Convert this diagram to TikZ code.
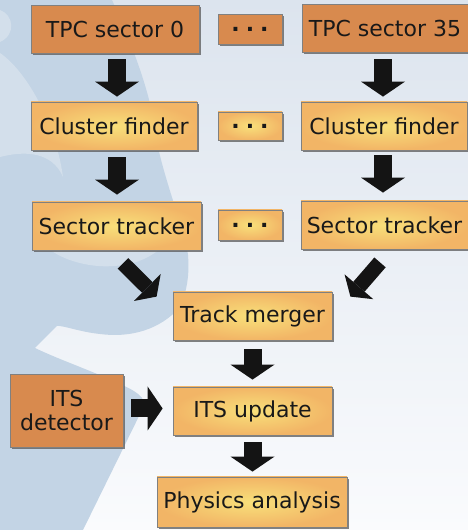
\documentclass[tikz,border=0pt]{standalone}
\usepackage{fontspec}
\setmainfont{DejaVu Sans}
\usetikzlibrary{arrows.meta,shadows}
\definecolor{bgtop}{HTML}{DCE4EE}
\definecolor{bgbottom}{HTML}{FAFBFD}
\definecolor{swirl}{HTML}{C3D4E5}
\definecolor{swirllight}{HTML}{D3DFEB}
\definecolor{detector}{HTML}{D88A4E}
\definecolor{stageouter}{HTML}{F2B566}
\definecolor{stageinner}{HTML}{F8E07A}
\newcommand{\boxfont}{\fontsize{22}{26}\selectfont}
\newcommand{\more}{\textbf{.\hspace{6pt}.\hspace{6pt}.}}
\tikzset{
  box/.style={inner sep=0pt, minimum height=48, font=\boxfont, text=black!90,
    draw=black!50, line width=0.8pt,
    drop shadow={shadow xshift=1.5pt, shadow yshift=-2.5pt, opacity=0.75, fill=black!65}},
  detectorbox/.style={box, fill=detector},
  stagebox/.style={box, inner color=stageinner, outer color=stageouter},
  flow/.style={line width=18pt, black!92,
    -{Triangle[width=44pt,length=15pt,line width=0pt]}},
  slantflow/.style={line width=15pt, black!92,
    -{Triangle[width=38pt,length=13pt,line width=0pt]}},
}

\begin{document}
\begin{tikzpicture}[x=1pt,y=1pt]
  \useasboundingbox (0,0) rectangle (468,530);
  % background
  \shade[top color=bgtop, bottom color=bgbottom] (0,0) rectangle (468,530);
  \fill[swirl] (0,530) -- (112,530)
    .. controls (130,490) and (150,440) .. (155,400)
    .. controls (160,360) and (185,300) .. (188,275)
    .. controls (190,250) and (185,235) .. (180,223)
    .. controls (160,200) and (130,192) .. (100,196)
    .. controls (80,198) and (62,205) .. (57,204) -- (35,182)
    .. controls (60,170) and (90,160) .. (115,148)
    .. controls (135,140) and (148,132) .. (143,122)
    -- (83,0) -- (0,0) -- cycle;
  \fill[swirllight] (0,520) .. controls (14,515) and (16,495) .. (0,488) -- cycle;
  \fill[swirllight] (0,477) .. controls (25,460) and (55,410) .. (63,353)
    .. controls (55,372) and (35,382) .. (0,373) -- cycle;
  \fill[swirllight] (40,290) .. controls (55,270) and (90,262) .. (113,264)
    .. controls (135,265) and (150,272) .. (165,285) -- cycle;
  % TPC sectors
  \node[detectorbox, minimum width=168] (tpc0) at (115,501) {TPC sector 0};
  \node[detectorbox, minimum width=64, minimum height=30] (dots1) at (250,501) {\more};
  \node[detectorbox, minimum width=166] (tpc35) at (385,502) {TPC sector 35};
  % cluster finders
  \node[stagebox, minimum width=166] (cf0) at (114,404) {Cluster finder};
  \node[stagebox, minimum width=64, minimum height=28] (dots2) at (250,404) {\more};
  \node[stagebox, minimum width=166] (cf35) at (384,404) {Cluster finder};
  % sector trackers
  \node[stagebox, minimum width=169] (st0) at (116.5,304) {Sector tracker};
  \node[stagebox, minimum width=64, minimum height=30] (dots3) at (250,305) {\more};
  \node[stagebox, minimum width=167] (st35) at (384.5,305) {Sector tracker};
  % merging and ITS
  \node[stagebox, minimum width=159] (tm) at (252.5,214) {Track merger};
  \node[detectorbox, minimum width=113, minimum height=73, align=center] (itsd) at (66.5,119.5) {ITS\\[-2pt]detector};
  \node[stagebox, minimum width=159] (itsu) at (252.5,119) {ITS update};
  \node[stagebox, minimum width=190, minimum height=50] (pa) at (252,28) {Physics analysis};
  % arrows
  \draw[flow, shorten <=6pt, shorten >=5pt] ([xshift=2pt]tpc0.south) -- ([xshift=2pt]tpc0.south |- cf0.north);
  \draw[flow, shorten <=7pt, shorten >=5pt] ([xshift=-2pt]tpc35.south) -- ([xshift=-2pt]tpc35.south |- cf35.north);
  \draw[flow, shorten <=7pt, shorten >=7pt] ([xshift=3pt]cf0.south) -- ([xshift=3pt]cf0.south |- st0.north);
  \draw[flow, shorten <=5pt, shorten >=8pt] ([xshift=-1pt]cf35.south) -- ([xshift=-1pt]cf35.south |- st35.north);
  \draw[slantflow] ([shift={(6.5,-13)}]st0.south) -- ([shift={(-16,-5)}]tm.north west);
  \draw[slantflow] ([shift={(-4.5,-13)}]st35.south) -- ([shift={(18,-5)}]tm.north east);
  \draw[flow, shorten <=9pt, shorten >=7pt] (tm.south) -- (itsu.north);
  \draw[flow, shorten <=8pt, shorten >=10pt] ([yshift=2pt]itsd.east) -- ([yshift=2pt]itsd.east -| itsu.west);
  \draw[flow, shorten <=7pt, shorten >=5pt] (itsu.south) -- (itsu.south |- pa.north);
\end{tikzpicture}
\end{document}
